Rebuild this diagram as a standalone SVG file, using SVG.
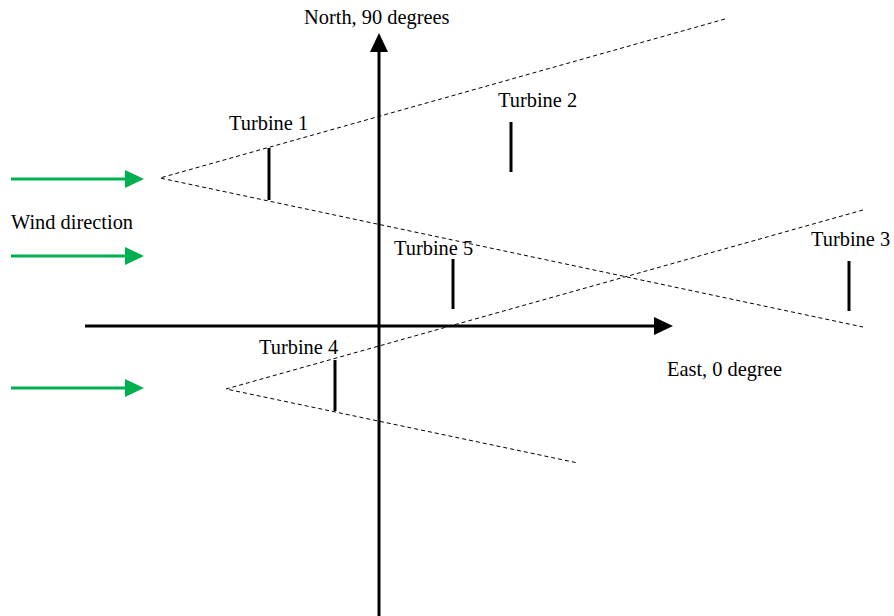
<svg xmlns="http://www.w3.org/2000/svg" width="894" height="616" viewBox="0 0 894 616">
<style>
text{font-family:"Liberation Serif","Times New Roman",serif;font-size:20.4px;fill:#000}
.dash{stroke:#000;stroke-width:1;stroke-dasharray:4 3;fill:none}
.axis{stroke:#000;stroke-width:3;fill:none}
.bar{stroke:#000;stroke-width:3;fill:none}
.wind{stroke:#00b050;stroke-width:3;fill:none}
</style>
<rect width="894" height="616" fill="#fff"/>
<g id="cones">
<polyline class="dash" points="725,19 160,178 863,327"/>
<polyline class="dash" points="863,210 226,389 578,463"/>
</g>
<g id="axes">
<line class="axis" x1="379" y1="616" x2="379" y2="50"/>
<polygon points="370,52 379,33 388,52" fill="#000"/>
<line class="axis" x1="85" y1="326" x2="656" y2="326"/>
<polygon points="654,317 673,326 654,335" fill="#000"/>
<text x="304" y="24">North, 90 degrees</text>
<text x="667" y="376">East, 0 degree</text>
</g>
<g id="wind">
<line class="wind" x1="11" y1="179" x2="127" y2="179"/>
<polygon points="125,170 144,179 125,188" fill="#00b050"/>
<line class="wind" x1="11" y1="256" x2="127" y2="256"/>
<polygon points="125,247 144,256 125,265" fill="#00b050"/>
<line class="wind" x1="11" y1="388" x2="127" y2="388"/>
<polygon points="125,379 144,388 125,397" fill="#00b050"/>
<text x="11" y="229">Wind direction</text>
</g>
<g id="turbine1">
<line class="bar" x1="269" y1="148" x2="269" y2="200"/>
<text x="229" y="130">Turbine 1</text>
</g>
<g id="turbine2">
<line class="bar" x1="511" y1="122" x2="511" y2="172"/>
<text x="498" y="107">Turbine 2</text>
</g>
<g id="turbine3">
<line class="bar" x1="849" y1="261" x2="849" y2="311"/>
<text x="811" y="246">Turbine 3</text>
</g>
<g id="turbine4">
<line class="bar" x1="335" y1="360" x2="335" y2="411"/>
<text x="259" y="354">Turbine 4</text>
</g>
<g id="turbine5">
<line class="bar" x1="453" y1="259" x2="453" y2="309"/>
<text x="394" y="255">Turbine 5</text>
</g>
</svg>
